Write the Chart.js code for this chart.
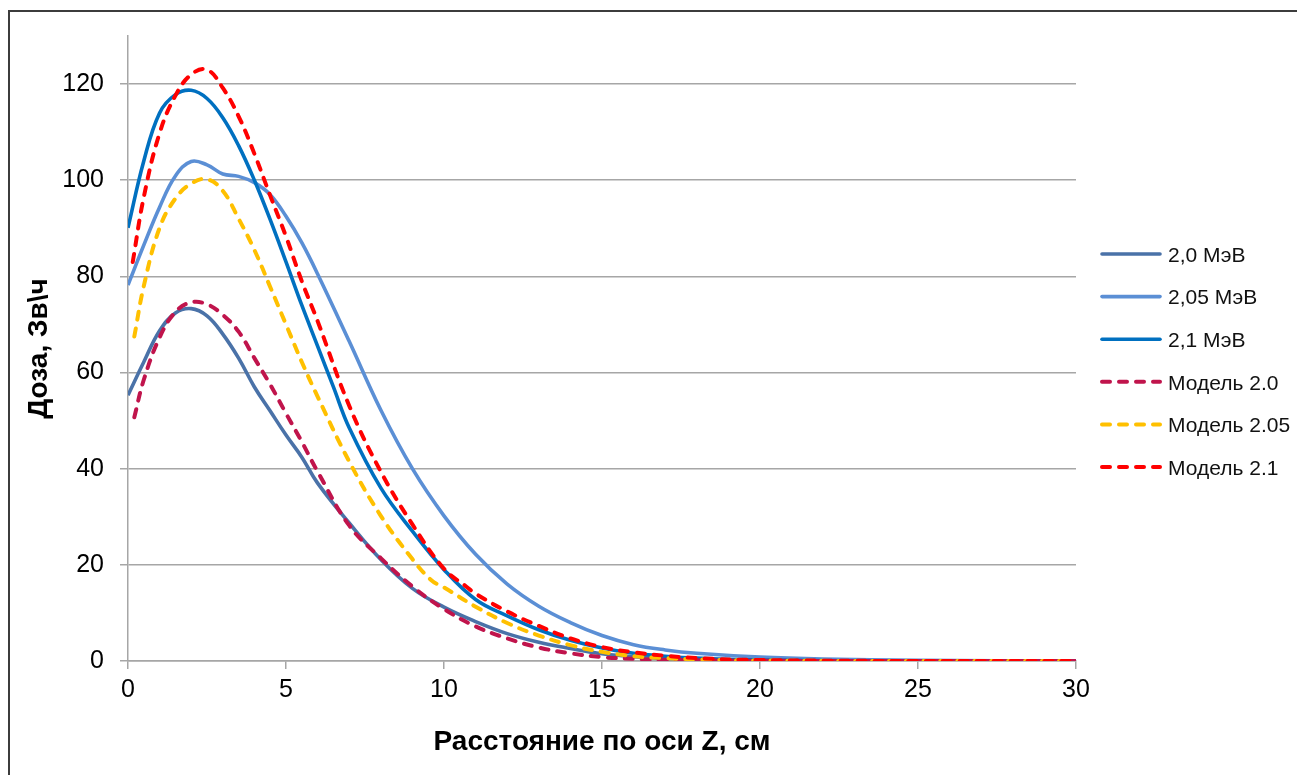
<!DOCTYPE html>
<html>
<head>
<meta charset="utf-8">
<script src="https://cdn.jsdelivr.net/npm/chart.js@4"></script>
<style>
  html, body { margin: 0; padding: 0; background: #fff; overflow: hidden; }
  #wrap { position: relative; width: 1297px; height: 775px; }
  #frame { position: absolute; left: 8px; top: 10px; width: 1310px; height: 800px; border: 2px solid #3c3c3c; }
  #myChart { position: absolute; left: 0; top: 0; }
</style>
</head>
<body>
<div id="wrap">
  <div id="frame"></div>
  <canvas id="myChart" width="1297" height="775"></canvas>
</div>
<script>
'use strict';

// measured curves (z in cm, dose in Зв/ч)
let z20 = [0, 0.5, 1, 1.5, 2, 2.5, 3, 3.5, 4, 4.5, 5, 5.5, 6, 7, 8, 9, 10, 11, 12, 13, 14, 15, 16, 17, 18, 20, 25, 30];
let dose20 = [55.3, 62.2, 68.7, 72.4, 73.3, 71.8, 68.0, 63.0, 57.0, 52.0, 47.0, 42.4, 37.0, 28.7, 21.1, 15.1, 11.2, 8.2, 5.7, 3.9, 2.6, 1.5, 0.9, 0.5, 0.3, 0.1, 0, 0];

let z205 = [0, 0.5, 1, 1.5, 2, 2.5, 3, 3.5, 4, 4.5, 5, 5.5, 6, 7, 8, 9, 10, 11, 12, 13, 14, 15, 16, 17, 18, 20, 22, 25, 30];
let dose205 = [78.2, 86.5, 94.4, 100.9, 103.9, 103.2, 101.3, 100.8, 99.5, 97.0, 92.5, 87.0, 80.5, 66.5, 52.2, 40.0, 30.2, 22.2, 16.0, 11.4, 8.0, 5.3, 3.4, 2.3, 1.6, 0.8, 0.4, 0.15, 0];

let z21 = [0, 0.5, 1, 1.5, 2, 2.5, 3, 3.5, 4, 4.5, 5, 5.5, 6, 6.5, 7, 8, 9, 10, 11, 12, 13, 14, 15, 16, 17, 18, 20, 25, 30];
let dose21 = [90.1, 104.0, 114.0, 117.8, 118.7, 117.0, 113.0, 107.2, 100.0, 91.8, 83.0, 74.0, 65.5, 57.0, 48.5, 36.0, 27.0, 19.0, 12.8, 9.4, 6.5, 4.3, 2.7, 1.6, 1.0, 0.6, 0.2, 0, 0];

// model curves
let zM20 = [0.2, 0.5, 1, 1.5, 2, 2.5, 3, 3.5, 4, 4.5, 5, 5.5, 6, 7, 8, 9, 10, 11, 12, 13, 14, 15, 16, 17, 18, 20, 25, 30];
let doseM20 = [50.7, 58.5, 67.3, 72.6, 74.6, 74.2, 72.0, 68.5, 63.0, 57.5, 51.5, 45.6, 39.4, 28.2, 21.4, 15.5, 10.8, 7.2, 4.7, 2.8, 1.6, 0.8, 0.45, 0.25, 0.15, 0.05, 0, 0];

let zM205 = [0.2, 0.5, 1, 1.5, 2, 2.5, 3, 3.5, 4, 4.5, 5, 5.5, 6, 7, 8, 9, 9.6, 10, 11, 12, 13, 14, 15, 16, 17, 18, 20, 25, 30];
let doseM205 = [67.5, 78.0, 90.1, 96.2, 99.3, 100.2, 97.8, 92.0, 85.5, 77.8, 70.0, 62.2, 55.0, 41.5, 30.2, 21.2, 16.8, 15.3, 11.3, 7.9, 5.3, 3.3, 1.9, 1.0, 0.6, 0.35, 0.1, 0, 0];

let zM21 = [0.15, 0.5, 1, 1.5, 2, 2.5, 3, 3.5, 4, 4.5, 5, 5.5, 6, 7, 8, 9, 10, 10.7, 11, 12, 13, 14, 15, 16, 17, 18, 20, 25, 30];
let doseM21 = [83.0, 96.5, 109.8, 117.6, 122.0, 123.0, 119.2, 113.3, 105.5, 96.8, 88.3, 79.0, 70.7, 53.1, 39.4, 28.4, 19.2, 15.5, 14.0, 10.3, 7.3, 4.7, 2.9, 1.8, 1.1, 0.6, 0.2, 0, 0];

let labels = ['2,0 МэВ', '2,05 МэВ', '2,1 МэВ', 'Модель 2.0', 'Модель 2.05', 'Модель 2.1'];
let colors = ['#4a72a8', '#5b8fd5', '#0070c0', '#c0144c', '#ffc000', '#ff0000'];
let zList = [z20, z205, z21, zM20, zM205, zM21];
let doseList = [dose20, dose205, dose21, doseM20, doseM205, doseM21];

let yTicks = [0, 20, 40, 60, 80, 100, 120];
let xTicks = [0, 5, 10, 15, 20, 25, 30];

function points(zs, ds) {
  let out = [];
  for (let i = 0; i < zs.length; i++) {
    out.push({x: zs[i], y: ds[i]});
  }
  return out;
}

let datasets = [];
for (let i = 0; i < labels.length; i++) {
  let dashed = i >= 3;
  datasets.push({
    label: labels[i],
    data: points(zList[i], doseList[i]),
    borderColor: colors[i],
    backgroundColor: colors[i],
    borderWidth: dashed ? 4 : 3.6,
    borderDash: dashed ? [8, 9] : [],
    borderCapStyle: dashed ? 'round' : 'butt',
    pointRadius: 0,
    fill: false,
    tension: 0.4,
    order: labels.length - i
  });
}

// legend drawn on the right, like the original
let sideLegend = {
  id: 'sideLegend',
  afterDraw(chart) {
    let ctx = chart.ctx;
    let sets = chart.data.datasets;
    ctx.save();
    ctx.font = '21px "Liberation Sans", Arial, sans-serif';
    ctx.textBaseline = 'middle';
    ctx.fillStyle = '#111';
    for (let i = 0; i < sets.length; i++) {
      let y = 254 + i * 42.6;
      ctx.beginPath();
      ctx.strokeStyle = sets[i].borderColor;
      ctx.lineWidth = sets[i].borderWidth;
      ctx.lineCap = 'round';
      ctx.setLineDash(sets[i].borderDash);
      ctx.moveTo(1102, y);
      ctx.lineTo(1160, y);
      ctx.stroke();
      ctx.setLineDash([]);
      ctx.fillText(sets[i].label, 1168, y + 2);
    }
    ctx.restore();
  }
};

let ctx = document.getElementById('myChart').getContext('2d');
new Chart(ctx, {
  type: 'line',
  data: { datasets: datasets },
  options: {
    responsive: false,
    animation: false,
    layout: { padding: { left: 0, top: 36, right: 221, bottom: 0 } },
    plugins: {
      legend: { display: false },
      tooltip: { enabled: false }
    },
    scales: {
      x: {
        type: 'linear',
        min: 0,
        max: 30,
        afterFit(scale) { scale.height = 114; },
        afterBuildTicks(scale) { scale.ticks = xTicks.map(v => ({value: v})); },
        grid: { drawOnChartArea: false, drawTicks: true, tickLength: 8, color: '#a6a6a6', lineWidth: 1.5 },
        border: { color: '#a6a6a6', width: 1.5 },
        ticks: { color: '#000', padding: 6, maxRotation: 0, font: { family: '"Liberation Sans", Arial, sans-serif', size: 25 } },
        title: {
          display: true,
          text: 'Расстояние по оси Z, см',
          color: '#000',
          padding: { top: 0, bottom: 16 },
          font: { family: '"Liberation Sans", Arial, sans-serif', size: 28, weight: 'bold' }
        }
      },
      y: {
        min: 0,
        max: 130,
        afterFit(scale) { scale.width = 128; },
        afterBuildTicks(scale) { scale.ticks = yTicks.map(v => ({value: v})); },
        grid: { drawOnChartArea: true, drawTicks: true, tickLength: 8, color: '#a6a6a6', lineWidth: 1.5 },
        border: { color: '#a6a6a6', width: 1.5 },
        ticks: { color: '#000', padding: 16, font: { family: '"Liberation Sans", Arial, sans-serif', size: 25 } },
        title: {
          display: true,
          text: 'Доза, Зв\\ч',
          color: '#000',
          padding: { top: 22, bottom: 0 },
          font: { family: '"Liberation Sans", Arial, sans-serif', size: 28, weight: 'bold' }
        }
      }
    }
  },
  plugins: [sideLegend]
});
</script>
</body>
</html>
